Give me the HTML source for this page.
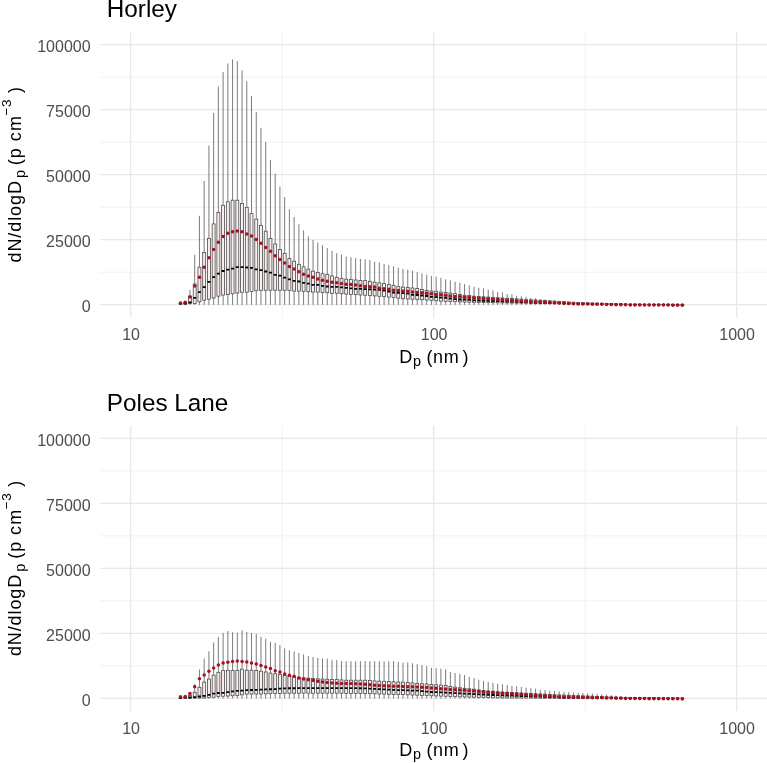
<!DOCTYPE html>
<html><head><meta charset="utf-8"><style>
html,body{margin:0;padding:0;background:#fff;}
body{width:767px;height:763px;overflow:hidden;font-family:"Liberation Sans",sans-serif;}
svg{display:block;will-change:transform;}
</style></head><body>
<svg width="767" height="763" viewBox="0 0 767 763" font-family="'Liberation Sans', sans-serif"><rect width="767" height="763" fill="#fff"/><line x1="100.0" x2="767.0" y1="272.20" y2="272.20" stroke="#efefef" stroke-width="0.9"/>
<line x1="100.0" x2="767.0" y1="207.20" y2="207.20" stroke="#efefef" stroke-width="0.9"/>
<line x1="100.0" x2="767.0" y1="142.20" y2="142.20" stroke="#efefef" stroke-width="0.9"/>
<line x1="100.0" x2="767.0" y1="77.20" y2="77.20" stroke="#efefef" stroke-width="0.9"/>
<line x1="282.20" x2="282.20" y1="32.2" y2="317.4" stroke="#efefef" stroke-width="0.9"/>
<line x1="585.20" x2="585.20" y1="32.2" y2="317.4" stroke="#efefef" stroke-width="0.9"/>
<line x1="100.0" x2="767.0" y1="304.70" y2="304.70" stroke="#e8e8e8" stroke-width="1.3"/>
<line x1="100.0" x2="767.0" y1="239.70" y2="239.70" stroke="#e8e8e8" stroke-width="1.3"/>
<line x1="100.0" x2="767.0" y1="174.70" y2="174.70" stroke="#e8e8e8" stroke-width="1.3"/>
<line x1="100.0" x2="767.0" y1="109.70" y2="109.70" stroke="#e8e8e8" stroke-width="1.3"/>
<line x1="100.0" x2="767.0" y1="44.70" y2="44.70" stroke="#e8e8e8" stroke-width="1.3"/>
<line x1="130.70" x2="130.70" y1="32.2" y2="317.4" stroke="#e8e8e8" stroke-width="1.3"/>
<line x1="433.70" x2="433.70" y1="32.2" y2="317.4" stroke="#e8e8e8" stroke-width="1.3"/>
<line x1="736.70" x2="736.70" y1="32.2" y2="317.4" stroke="#e8e8e8" stroke-width="1.3"/>
<path d="M180.50 303.00V303.50M180.50 304.00V304.90M185.23 301.80V303.00M185.23 304.00V304.90M189.97 289.80V296.10M189.97 303.40V304.90M194.70 254.70V284.00M194.70 303.40V304.90M199.44 215.80V267.20M199.44 301.80V304.90M204.17 180.90V252.50M204.17 300.20V304.90M208.91 145.50V238.50M208.91 299.20V304.90M213.64 112.90V223.90M213.64 297.90V304.90M218.37 86.50V212.40M218.37 296.20V304.90M223.11 72.00V205.30M223.11 295.10V304.90M227.84 63.40V201.80M227.84 294.60V304.90M232.58 59.40V200.20M232.58 293.80V304.90M237.31 61.00V200.20M237.31 293.00V304.90M242.05 70.40V203.40M242.05 292.20V304.90M246.78 81.20V207.30M246.78 292.20V304.90M251.51 96.10V213.60M251.51 291.40V304.90M256.25 112.00V219.10M256.25 290.70V304.90M260.98 127.90V225.40M260.98 290.30V304.90M265.72 141.90V231.20M265.72 290.27V304.90M270.45 160.00V238.40M270.45 290.23V304.90M275.19 173.70V243.90M275.19 290.20V304.90M279.92 186.80V249.50M279.92 290.27V304.90M284.66 197.00V253.40M284.66 290.33V304.90M289.39 209.20V258.40M289.39 290.40V304.90M294.12 217.00V261.20M294.12 291.10V304.90M298.86 224.20V264.30M298.86 291.10V304.90M303.59 230.40V266.80M303.59 291.30V304.90M308.33 236.30V269.20M308.33 291.70V304.90M313.06 240.00V271.20M313.06 292.10V304.90M317.80 242.60V272.50M317.80 292.10V304.90M322.53 245.20V273.70M322.53 292.40V304.90M327.26 248.20V274.40M327.26 292.70V304.90M332.00 250.90V276.00M332.00 293.30V304.90M336.73 253.10V277.30M336.73 293.30V304.90M341.47 254.50V278.30M341.47 293.70V304.90M346.20 256.50V279.20M346.20 294.10V304.90M350.94 257.20V279.40M350.94 294.38V304.90M355.67 258.00V280.00M355.67 294.66V304.90M360.41 259.00V280.50M360.41 294.94V304.90M365.14 259.30V280.60M365.14 295.22V304.90M369.87 260.00V281.30M369.87 295.50V304.90M374.61 261.70V282.20M374.61 295.90V304.90M379.34 262.50V282.90M379.34 296.30V304.90M384.08 263.80V283.40M384.08 296.70V304.90M388.81 265.10V284.40M388.81 297.10V304.90M393.55 266.20V285.30M393.55 297.60V304.90M398.28 267.70V286.60M398.28 298.20V304.90M403.01 269.00V287.10M403.01 298.70V304.90M407.75 269.60V287.50M407.75 298.95V304.90M412.48 270.70V288.00M412.48 299.20V304.90M417.22 272.10V288.50M417.22 299.45V304.90M421.95 273.50V289.40M421.95 299.70V304.90M426.69 274.60V290.30M426.69 300.00V304.90M431.42 276.00V291.00M431.42 300.30V304.90M436.16 276.70V291.30M436.16 300.70V304.90M440.89 277.90V292.10M440.89 301.10V304.90M445.62 279.30V292.50M445.62 301.30V304.90M450.36 280.30V293.10M450.36 301.48V304.90M455.09 281.80V293.60M455.09 301.67V304.90M459.83 282.90V294.40M459.83 301.85V304.90M464.56 284.00V295.20M464.56 302.03V304.90M469.30 285.40V295.40M469.30 302.22V304.90M474.03 286.70V296.20M474.03 302.40V304.90M478.76 287.70V296.49M478.76 302.48V304.90M483.50 288.30V296.78M483.50 302.56V304.90M488.23 289.60V297.07M488.23 302.65V304.90M492.97 290.40V297.36M492.97 302.73V304.90M497.70 292.00V297.65M497.70 302.81V304.90M502.44 292.50V297.95M502.44 302.89V304.90M507.17 294.00V298.24M507.17 302.97V304.90M511.91 294.30V298.53M511.91 303.05V304.90M516.64 295.90V298.82M516.64 303.14V304.90M521.37 296.30V299.11M521.37 303.22V304.90M526.11 296.80V299.40M526.11 303.30V304.90M530.84 298.00V299.68M530.84 303.36V304.90M535.58 298.20V299.96M535.58 303.43V304.90M540.31 299.00V300.25M540.31 303.49V304.90M545.05 299.40V300.53M545.05 303.55V304.90M549.78 300.00V300.81M549.78 303.62V304.90M554.51 300.30V301.09M554.51 303.68V304.90M559.25 301.00V301.37M559.25 303.75V304.90M563.98 303.81V304.90M568.72 303.87V304.90M573.45 303.94V304.90M578.19 304.00V304.90M582.92 304.03V304.90M587.66 304.06V304.90M592.39 304.10V304.90M597.12 304.13V304.90M601.86 304.16V304.90M606.59 304.24V304.90M611.33 304.31V304.90M616.06 304.38V304.90M620.80 304.45V304.90M625.53 304.53V304.90M630.26 304.60V304.90M635.00 304.61V304.90M639.73 304.62V304.90M644.47 304.63V304.90M649.20 304.64V304.90M653.94 304.65V304.90M658.67 304.65V304.90M663.41 304.66V304.90M668.14 304.67V304.90M672.87 304.68V304.90M677.61 304.69V304.90M682.34 304.70V304.90" stroke="#505050" stroke-width="0.75" fill="none"/>
<g fill="#fbeeee" stroke="#4a4a4a" stroke-width="0.8"><rect x="179.02" y="303.50" width="2.95" height="0.50"/><rect x="183.76" y="303.00" width="2.95" height="1.00"/><rect x="188.49" y="296.10" width="2.95" height="7.30"/><rect x="193.23" y="284.00" width="2.95" height="19.40"/><rect x="197.96" y="267.20" width="2.95" height="34.60"/><rect x="202.70" y="252.50" width="2.95" height="47.70"/><rect x="207.43" y="238.50" width="2.95" height="60.70"/><rect x="212.16" y="223.90" width="2.95" height="74.00"/><rect x="216.90" y="212.40" width="2.95" height="83.80"/><rect x="221.63" y="205.30" width="2.95" height="89.80"/><rect x="226.37" y="201.80" width="2.95" height="92.80"/><rect x="231.10" y="200.20" width="2.95" height="93.60"/><rect x="235.84" y="200.20" width="2.95" height="92.80"/><rect x="240.57" y="203.40" width="2.95" height="88.80"/><rect x="245.31" y="207.30" width="2.95" height="84.90"/><rect x="250.04" y="213.60" width="2.95" height="77.80"/><rect x="254.77" y="219.10" width="2.95" height="71.60"/><rect x="259.51" y="225.40" width="2.95" height="64.90"/><rect x="264.24" y="231.20" width="2.95" height="59.07"/><rect x="268.98" y="238.40" width="2.95" height="51.83"/><rect x="273.71" y="243.90" width="2.95" height="46.30"/><rect x="278.45" y="249.50" width="2.95" height="40.77"/><rect x="283.18" y="253.40" width="2.95" height="36.93"/><rect x="287.91" y="258.40" width="2.95" height="32.00"/><rect x="292.65" y="261.20" width="2.95" height="29.90"/><rect x="297.38" y="264.30" width="2.95" height="26.80"/><rect x="302.12" y="266.80" width="2.95" height="24.50"/><rect x="306.85" y="269.20" width="2.95" height="22.50"/><rect x="311.59" y="271.20" width="2.95" height="20.90"/><rect x="316.32" y="272.50" width="2.95" height="19.60"/><rect x="321.06" y="273.70" width="2.95" height="18.70"/><rect x="325.79" y="274.40" width="2.95" height="18.30"/><rect x="330.52" y="276.00" width="2.95" height="17.30"/><rect x="335.26" y="277.30" width="2.95" height="16.00"/><rect x="339.99" y="278.30" width="2.95" height="15.40"/><rect x="344.73" y="279.20" width="2.95" height="14.90"/><rect x="349.46" y="279.40" width="2.95" height="14.98"/><rect x="354.20" y="280.00" width="2.95" height="14.66"/><rect x="358.93" y="280.50" width="2.95" height="14.44"/><rect x="363.66" y="280.60" width="2.95" height="14.62"/><rect x="368.40" y="281.30" width="2.95" height="14.20"/><rect x="373.13" y="282.20" width="2.95" height="13.70"/><rect x="377.87" y="282.90" width="2.95" height="13.40"/><rect x="382.60" y="283.40" width="2.95" height="13.30"/><rect x="387.34" y="284.40" width="2.95" height="12.70"/><rect x="392.07" y="285.30" width="2.95" height="12.30"/><rect x="396.81" y="286.60" width="2.95" height="11.60"/><rect x="401.54" y="287.10" width="2.95" height="11.60"/><rect x="406.27" y="287.50" width="2.95" height="11.45"/><rect x="411.01" y="288.00" width="2.95" height="11.20"/><rect x="415.74" y="288.50" width="2.95" height="10.95"/><rect x="420.48" y="289.40" width="2.95" height="10.30"/><rect x="425.21" y="290.30" width="2.95" height="9.70"/><rect x="429.95" y="291.00" width="2.95" height="9.30"/><rect x="434.68" y="291.30" width="2.95" height="9.40"/><rect x="439.41" y="292.10" width="2.95" height="9.00"/><rect x="444.15" y="292.50" width="2.95" height="8.80"/><rect x="448.88" y="293.10" width="2.95" height="8.38"/><rect x="453.62" y="293.60" width="2.95" height="8.07"/><rect x="458.35" y="294.40" width="2.95" height="7.45"/><rect x="463.09" y="295.20" width="2.95" height="6.83"/><rect x="467.82" y="295.40" width="2.95" height="6.82"/><rect x="472.56" y="296.20" width="2.95" height="6.20"/><rect x="477.29" y="296.49" width="2.95" height="5.99"/><rect x="482.02" y="296.78" width="2.95" height="5.78"/><rect x="486.76" y="297.07" width="2.95" height="5.57"/><rect x="491.49" y="297.36" width="2.95" height="5.36"/><rect x="496.23" y="297.65" width="2.95" height="5.15"/><rect x="500.96" y="297.95" width="2.95" height="4.95"/><rect x="505.70" y="298.24" width="2.95" height="4.74"/><rect x="510.43" y="298.53" width="2.95" height="4.53"/><rect x="515.16" y="298.82" width="2.95" height="4.32"/><rect x="519.90" y="299.11" width="2.95" height="4.11"/><rect x="524.63" y="299.40" width="2.95" height="3.90"/><rect x="529.37" y="299.68" width="2.95" height="3.68"/><rect x="534.10" y="299.96" width="2.95" height="3.46"/><rect x="538.84" y="300.25" width="2.95" height="3.25"/><rect x="543.57" y="300.53" width="2.95" height="3.03"/><rect x="548.31" y="300.81" width="2.95" height="2.81"/><rect x="553.04" y="301.09" width="2.95" height="2.59"/><rect x="557.77" y="301.37" width="2.95" height="2.37"/><rect x="562.51" y="301.65" width="2.95" height="2.15"/><rect x="567.24" y="301.94" width="2.95" height="1.94"/><rect x="571.98" y="302.22" width="2.95" height="1.72"/><rect x="576.71" y="302.50" width="2.95" height="1.50"/><rect x="581.45" y="302.65" width="2.95" height="1.38"/><rect x="586.18" y="302.81" width="2.95" height="1.25"/><rect x="590.91" y="302.96" width="2.95" height="1.13"/><rect x="595.65" y="303.12" width="2.95" height="1.01"/><rect x="600.38" y="303.27" width="2.95" height="0.89"/><rect x="605.12" y="303.43" width="2.95" height="0.81"/><rect x="609.85" y="303.58" width="2.95" height="0.73"/><rect x="614.59" y="303.74" width="2.95" height="0.65"/><rect x="619.32" y="303.89" width="2.95" height="0.56"/><rect x="624.06" y="304.05" width="2.95" height="0.48"/><rect x="628.79" y="304.20" width="2.95" height="0.40"/><rect x="633.52" y="304.24" width="2.95" height="0.37"/><rect x="638.26" y="304.27" width="2.95" height="0.35"/><rect x="642.99" y="304.31" width="2.95" height="0.32"/><rect x="647.73" y="304.35" width="2.95" height="0.30"/><rect x="652.46" y="304.38" width="2.95" height="0.30"/><rect x="657.20" y="304.42" width="2.95" height="0.30"/><rect x="661.93" y="304.45" width="2.95" height="0.30"/><rect x="666.66" y="304.49" width="2.95" height="0.30"/><rect x="671.40" y="304.53" width="2.95" height="0.30"/><rect x="676.13" y="304.56" width="2.95" height="0.30"/><rect x="680.87" y="304.60" width="2.95" height="0.30"/></g>
<path d="M179.02 303.70h2.95M183.76 303.50h2.95M188.49 302.30h2.95M193.23 297.90h2.95M197.96 292.10h2.95M202.70 287.10h2.95M207.43 281.90h2.95M212.16 277.10h2.95M216.90 273.70h2.95M221.63 271.00h2.95M226.37 269.70h2.95M231.10 268.60h2.95M235.84 267.10h2.95M240.57 267.10h2.95M245.31 267.50h2.95M250.04 267.90h2.95M254.77 269.40h2.95M259.51 270.20h2.95M264.24 271.50h2.95M268.98 272.60h2.95M273.71 274.90h2.95M278.45 275.70h2.95M283.18 277.60h2.95M287.91 279.30h2.95M292.65 280.80h2.95M297.38 281.50h2.95M302.12 282.80h2.95M306.85 283.60h2.95M311.59 284.80h2.95M316.32 284.90h2.95M321.06 285.80h2.95M325.79 286.50h2.95M330.52 286.80h2.95M335.26 286.80h2.95M339.99 287.30h2.95M344.73 287.90h2.95M349.46 288.40h2.95M354.20 288.90h2.95M358.93 288.90h2.95M363.66 289.20h2.95M368.40 289.40h2.95M373.13 289.70h2.95M377.87 289.90h2.95M382.60 290.60h2.95M387.34 291.50h2.95M392.07 292.70h2.95M396.81 292.90h2.95M401.54 293.20h2.95M406.27 293.70h2.95M411.01 294.80h2.95M415.74 295.00h2.95M420.48 295.50h2.95M425.21 296.00h2.95M429.95 296.90h2.95M434.68 297.20h2.95M439.41 297.60h2.95M444.15 297.80h2.95M448.88 298.60h2.95M453.62 299.10h2.95M458.35 299.50h2.95M463.09 299.70h2.95M467.82 299.90h2.95M472.56 300.40h2.95M477.29 300.56h2.95M482.02 300.73h2.95M486.76 300.89h2.95M491.49 301.05h2.95M496.23 301.22h2.95M500.96 301.38h2.95M505.70 301.55h2.95M510.43 301.71h2.95M515.16 301.87h2.95M519.90 302.04h2.95M524.63 302.20h2.95M529.37 302.35h2.95M534.10 302.49h2.95M538.84 302.64h2.95M543.57 302.78h2.95M548.31 302.93h2.95M553.04 303.07h2.95M557.77 303.22h2.95M562.51 303.36h2.95M567.24 303.51h2.95M571.98 303.65h2.95M576.71 303.80h2.95M581.45 303.87h2.95M586.18 303.95h2.95M590.91 304.02h2.95M595.65 304.09h2.95M600.38 304.16h2.95M605.12 304.24h2.95M609.85 304.31h2.95M614.59 304.38h2.95M619.32 304.45h2.95M624.06 304.53h2.95M628.79 304.60h2.95M633.52 304.61h2.95M638.26 304.62h2.95M642.99 304.63h2.95M647.73 304.64h2.95M652.46 304.65h2.95M657.20 304.65h2.95M661.93 304.66h2.95M666.66 304.67h2.95M671.40 304.68h2.95M676.13 304.69h2.95M680.87 304.70h2.95" stroke="#000" stroke-width="1.8" fill="none"/>
<g fill="#a80f1f"><circle cx="180.50" cy="302.90" r="1.75"/><circle cx="185.23" cy="302.30" r="1.75"/><circle cx="189.97" cy="297.10" r="1.75"/><circle cx="194.70" cy="286.10" r="1.75"/><circle cx="199.44" cy="277.20" r="1.75"/><circle cx="204.17" cy="267.20" r="1.75"/><circle cx="208.91" cy="257.70" r="1.75"/><circle cx="213.64" cy="249.40" r="1.75"/><circle cx="218.37" cy="242.30" r="1.75"/><circle cx="223.11" cy="236.50" r="1.75"/><circle cx="227.84" cy="233.30" r="1.75"/><circle cx="232.58" cy="231.70" r="1.75"/><circle cx="237.31" cy="230.90" r="1.75"/><circle cx="242.05" cy="231.70" r="1.75"/><circle cx="246.78" cy="234.00" r="1.75"/><circle cx="251.51" cy="236.10" r="1.75"/><circle cx="256.25" cy="239.50" r="1.75"/><circle cx="260.98" cy="243.20" r="1.75"/><circle cx="265.72" cy="247.40" r="1.75"/><circle cx="270.45" cy="251.30" r="1.75"/><circle cx="275.19" cy="255.70" r="1.75"/><circle cx="279.92" cy="259.50" r="1.75"/><circle cx="284.66" cy="263.10" r="1.75"/><circle cx="289.39" cy="266.60" r="1.75"/><circle cx="294.12" cy="269.10" r="1.75"/><circle cx="298.86" cy="271.80" r="1.75"/><circle cx="303.59" cy="274.20" r="1.75"/><circle cx="308.33" cy="276.00" r="1.75"/><circle cx="313.06" cy="277.30" r="1.75"/><circle cx="317.80" cy="278.90" r="1.75"/><circle cx="322.53" cy="280.30" r="1.75"/><circle cx="327.26" cy="281.30" r="1.75"/><circle cx="332.00" cy="282.30" r="1.75"/><circle cx="336.73" cy="282.80" r="1.75"/><circle cx="341.47" cy="283.50" r="1.75"/><circle cx="346.20" cy="284.20" r="1.75"/><circle cx="350.94" cy="284.50" r="1.75"/><circle cx="355.67" cy="285.00" r="1.75"/><circle cx="360.41" cy="285.80" r="1.75"/><circle cx="365.14" cy="286.60" r="1.75"/><circle cx="369.87" cy="286.80" r="1.75"/><circle cx="374.61" cy="287.10" r="1.75"/><circle cx="379.34" cy="288.20" r="1.75"/><circle cx="384.08" cy="288.70" r="1.75"/><circle cx="388.81" cy="289.20" r="1.75"/><circle cx="393.55" cy="290.30" r="1.75"/><circle cx="398.28" cy="290.60" r="1.75"/><circle cx="403.01" cy="291.00" r="1.75"/><circle cx="407.75" cy="291.30" r="1.75"/><circle cx="412.48" cy="291.90" r="1.75"/><circle cx="417.22" cy="292.40" r="1.75"/><circle cx="421.95" cy="292.70" r="1.75"/><circle cx="426.69" cy="293.20" r="1.75"/><circle cx="431.42" cy="293.80" r="1.75"/><circle cx="436.16" cy="294.40" r="1.75"/><circle cx="440.89" cy="294.70" r="1.75"/><circle cx="445.62" cy="295.20" r="1.75"/><circle cx="450.36" cy="296.00" r="1.75"/><circle cx="455.09" cy="296.40" r="1.75"/><circle cx="459.83" cy="296.80" r="1.75"/><circle cx="464.56" cy="297.20" r="1.75"/><circle cx="469.30" cy="297.40" r="1.75"/><circle cx="474.03" cy="297.90" r="1.75"/><circle cx="478.76" cy="298.22" r="1.75"/><circle cx="483.50" cy="298.54" r="1.75"/><circle cx="488.23" cy="298.85" r="1.75"/><circle cx="492.97" cy="299.17" r="1.75"/><circle cx="497.70" cy="299.49" r="1.75"/><circle cx="502.44" cy="299.81" r="1.75"/><circle cx="507.17" cy="300.13" r="1.75"/><circle cx="511.91" cy="300.45" r="1.75"/><circle cx="516.64" cy="300.76" r="1.75"/><circle cx="521.37" cy="301.08" r="1.75"/><circle cx="526.11" cy="301.40" r="1.75"/><circle cx="530.84" cy="301.63" r="1.75"/><circle cx="535.58" cy="301.85" r="1.75"/><circle cx="540.31" cy="302.08" r="1.75"/><circle cx="545.05" cy="302.31" r="1.75"/><circle cx="549.78" cy="302.54" r="1.75"/><circle cx="554.51" cy="302.76" r="1.75"/><circle cx="559.25" cy="302.99" r="1.75"/><circle cx="563.98" cy="303.22" r="1.75"/><circle cx="568.72" cy="303.45" r="1.75"/><circle cx="573.45" cy="303.67" r="1.75"/><circle cx="578.19" cy="303.90" r="1.75"/><circle cx="582.92" cy="303.99" r="1.75"/><circle cx="587.66" cy="304.08" r="1.75"/><circle cx="592.39" cy="304.17" r="1.75"/><circle cx="597.12" cy="304.26" r="1.75"/><circle cx="601.86" cy="304.35" r="1.75"/><circle cx="606.59" cy="304.45" r="1.75"/><circle cx="611.33" cy="304.54" r="1.75"/><circle cx="616.06" cy="304.63" r="1.75"/><circle cx="620.80" cy="304.72" r="1.75"/><circle cx="625.53" cy="304.81" r="1.75"/><circle cx="630.26" cy="304.90" r="1.75"/><circle cx="635.00" cy="304.93" r="1.75"/><circle cx="639.73" cy="304.95" r="1.75"/><circle cx="644.47" cy="304.98" r="1.75"/><circle cx="649.20" cy="305.01" r="1.75"/><circle cx="653.94" cy="305.04" r="1.75"/><circle cx="658.67" cy="305.06" r="1.75"/><circle cx="663.41" cy="305.09" r="1.75"/><circle cx="668.14" cy="305.12" r="1.75"/><circle cx="672.87" cy="305.15" r="1.75"/><circle cx="677.61" cy="305.17" r="1.75"/><circle cx="682.34" cy="305.20" r="1.75"/></g>
<text x="90.6" y="312.00" text-anchor="end" font-size="16" fill="#4d4d4d">0</text>
<text x="90.6" y="247.00" text-anchor="end" font-size="16" fill="#4d4d4d">25000</text>
<text x="90.6" y="182.00" text-anchor="end" font-size="16" fill="#4d4d4d">50000</text>
<text x="90.6" y="117.00" text-anchor="end" font-size="16" fill="#4d4d4d">75000</text>
<text x="90.6" y="52.00" text-anchor="end" font-size="16" fill="#4d4d4d">100000</text>
<text x="131.10" y="340.30" text-anchor="middle" font-size="16" fill="#4d4d4d">10</text>
<text x="434.10" y="340.30" text-anchor="middle" font-size="16" fill="#4d4d4d">100</text>
<text x="737.10" y="340.30" text-anchor="middle" font-size="16" fill="#4d4d4d">1000</text>
<text x="106.8" y="16.90" font-size="24.3" fill="#000">Horley</text>
<text y="362.70" font-size="18" fill="#000"><tspan x="399.2">D</tspan></text>
<text x="412.9" y="365.60" font-size="14.4" fill="#000">p</text>
<text y="362.70" font-size="18" fill="#000"><tspan x="426.4">(</tspan><tspan x="432.9" letter-spacing="0.8">nm</tspan><tspan x="462.4">)</tspan></text>
<text transform="translate(20.80 0.00) rotate(-90)" x="-262.46" y="0" font-size="18" fill="#000" letter-spacing="0.9">dN/dlogD</text>
<text transform="translate(24.60 0.00) rotate(-90)" x="-178.10" y="0" font-size="14.4" fill="#000" letter-spacing="0.0">p</text>
<text transform="translate(20.80 0.00) rotate(-90)" x="-165.20" y="0" font-size="18" fill="#000" letter-spacing="1.0">(p</text>
<text transform="translate(20.80 0.00) rotate(-90)" x="-141.26" y="0" font-size="18" fill="#000" letter-spacing="1.2">cm</text>
<text transform="translate(11.10 0.00) rotate(-90)" x="-115.50" y="0" font-size="13.5" fill="#000" letter-spacing="0.5">−3</text>
<text transform="translate(20.80 0.00) rotate(-90)" x="-93.00" y="0" font-size="18" fill="#000" letter-spacing="0.0">)</text><line x1="100.0" x2="767.0" y1="665.85" y2="665.85" stroke="#efefef" stroke-width="0.9"/>
<line x1="100.0" x2="767.0" y1="600.85" y2="600.85" stroke="#efefef" stroke-width="0.9"/>
<line x1="100.0" x2="767.0" y1="535.85" y2="535.85" stroke="#efefef" stroke-width="0.9"/>
<line x1="100.0" x2="767.0" y1="470.85" y2="470.85" stroke="#efefef" stroke-width="0.9"/>
<line x1="282.20" x2="282.20" y1="425.84999999999997" y2="711.05" stroke="#efefef" stroke-width="0.9"/>
<line x1="585.20" x2="585.20" y1="425.84999999999997" y2="711.05" stroke="#efefef" stroke-width="0.9"/>
<line x1="100.0" x2="767.0" y1="698.35" y2="698.35" stroke="#e8e8e8" stroke-width="1.3"/>
<line x1="100.0" x2="767.0" y1="633.35" y2="633.35" stroke="#e8e8e8" stroke-width="1.3"/>
<line x1="100.0" x2="767.0" y1="568.35" y2="568.35" stroke="#e8e8e8" stroke-width="1.3"/>
<line x1="100.0" x2="767.0" y1="503.35" y2="503.35" stroke="#e8e8e8" stroke-width="1.3"/>
<line x1="100.0" x2="767.0" y1="438.35" y2="438.35" stroke="#e8e8e8" stroke-width="1.3"/>
<line x1="130.70" x2="130.70" y1="425.84999999999997" y2="711.05" stroke="#e8e8e8" stroke-width="1.3"/>
<line x1="433.70" x2="433.70" y1="425.84999999999997" y2="711.05" stroke="#e8e8e8" stroke-width="1.3"/>
<line x1="736.70" x2="736.70" y1="425.84999999999997" y2="711.05" stroke="#e8e8e8" stroke-width="1.3"/>
<path d="M180.50 697.00V697.50M180.50 698.20V698.50M185.23 696.50V697.30M185.23 698.20V698.50M189.97 693.00V695.50M189.97 698.20V698.50M194.70 684.00V692.30M194.70 698.10V698.50M199.44 669.60V687.30M199.44 698.05V698.50M204.17 658.50V682.10M204.17 698.00V698.50M208.91 651.30V679.10M208.91 697.50V698.50M213.64 642.50V675.10M213.64 697.20V698.50M218.37 636.90V672.30M218.37 696.50V698.50M223.11 632.90V670.50M223.11 696.25V698.50M227.84 631.00V670.30M227.84 696.00V698.50M232.58 632.30V670.50M232.58 695.75V698.50M237.31 632.50V670.30M237.31 695.50V698.50M242.05 630.30V669.20M242.05 694.80V698.50M246.78 632.00V670.20M246.78 694.10V698.50M251.51 633.00V670.20M251.51 694.07V698.50M256.25 633.90V670.40M256.25 694.03V698.50M260.98 636.90V671.20M260.98 694.00V698.50M265.72 638.70V672.00M265.72 693.83V698.50M270.45 641.70V673.10M270.45 693.67V698.50M275.19 642.80V673.70M275.19 693.50V698.50M279.92 645.10V674.30M279.92 693.40V698.50M284.66 648.40V675.40M284.66 693.30V698.50M289.39 650.30V676.20M289.39 693.20V698.50M294.12 651.60V676.80M294.12 693.20V698.50M298.86 653.00V677.30M298.86 693.20V698.50M303.59 654.50V677.80M303.59 693.20V698.50M308.33 656.10V678.10M308.33 693.20V698.50M313.06 656.90V678.40M313.06 693.20V698.50M317.80 657.70V678.80M317.80 693.20V698.50M322.53 658.60V679.10M322.53 693.20V698.50M327.26 658.70V679.30M327.26 693.20V698.50M332.00 659.80V679.50M332.00 693.20V698.50M336.73 660.10V679.60M336.73 693.20V698.50M341.47 661.00V679.90M341.47 693.28V698.50M346.20 661.20V680.20M346.20 693.35V698.50M350.94 661.20V680.20M350.94 693.42V698.50M355.67 661.20V680.20M355.67 693.50V698.50M360.41 661.20V680.20M360.41 693.58V698.50M365.14 661.20V680.20M365.14 693.65V698.50M369.87 661.20V680.60M369.87 693.72V698.50M374.61 661.20V680.90M374.61 693.80V698.50M379.34 661.20V681.10M379.34 693.97V698.50M384.08 661.20V681.30M384.08 694.13V698.50M388.81 661.20V681.50M388.81 694.30V698.50M393.55 661.20V681.75M393.55 694.40V698.50M398.28 661.90V682.00M398.28 694.50V698.50M403.01 662.60V682.20M403.01 694.60V698.50M407.75 662.40V682.40M407.75 694.80V698.50M412.48 663.30V682.90M412.48 695.00V698.50M417.22 664.20V683.40M417.22 695.20V698.50M421.95 665.10V683.70M421.95 695.38V698.50M426.69 666.00V684.00M426.69 695.55V698.50M431.42 667.80V684.40M431.42 695.73V698.50M436.16 668.20V684.80M436.16 695.90V698.50M440.89 668.70V685.20M440.89 696.10V698.50M445.62 669.30V685.60M445.62 696.30V698.50M450.36 671.90V686.40M450.36 696.50V698.50M455.09 673.00V687.20M455.09 696.67V698.50M459.83 673.90V687.75M459.83 696.83V698.50M464.56 675.10V688.30M464.56 697.00V698.50M469.30 676.90V688.75M469.30 697.12V698.50M474.03 678.10V689.20M474.03 697.25V698.50M478.76 679.70V689.90M478.76 697.38V698.50M483.50 680.80V690.60M483.50 697.50V698.50M488.23 681.90V690.95M488.23 697.63V698.50M492.97 682.90V691.30M492.97 697.77V698.50M497.70 683.80V691.80M497.70 697.90V698.50M502.44 684.50V692.04M502.44 697.93V698.50M507.17 685.10V692.27M507.17 697.96V698.50M511.91 686.00V692.51M511.91 697.99V698.50M516.64 686.30V692.74M516.64 698.01V698.50M521.37 686.90V692.98M521.37 698.04V698.50M526.11 687.80V693.21M526.11 698.07V698.50M530.84 688.30V693.45M530.84 698.10V698.50M535.58 688.70V693.69M535.58 698.13V698.50M540.31 689.70V693.92M540.31 698.16V698.50M545.05 690.10V694.16M545.05 698.19V698.50M549.78 690.60V694.39M549.78 698.21V698.50M554.51 691.00V694.63M554.51 698.24V698.50M559.25 691.50V694.86M559.25 698.27V698.50M563.98 691.90V695.10M563.98 698.30V698.50M568.72 692.17V695.28M568.72 698.30V698.50M573.45 692.44V695.46M573.45 698.30V698.50M578.19 692.71V695.64M578.19 698.31V698.50M582.92 692.99V695.81M582.92 698.31V698.50M587.66 693.26V695.99M587.66 698.31V698.50M592.39 693.53V696.17M592.39 698.31V698.50M597.12 693.80V696.35M597.12 698.31V698.50M601.86 694.26V696.53M601.86 698.32V698.50M606.59 694.71V696.71M606.59 698.32V698.50M611.33 695.17V696.89M611.33 698.32V698.50M616.06 695.63V697.06M616.06 698.32V698.50M620.80 696.09V697.24M620.80 698.32V698.50M625.53 696.54V697.42M625.53 698.33V698.50M630.26 697.00V697.60M630.26 698.33V698.50M635.00 697.10V697.65M635.00 698.33V698.50M639.73 697.20V697.71M639.73 698.33V698.50M644.47 697.30V697.76M644.47 698.33V698.50M649.20 697.40V697.82M649.20 698.34V698.50M653.94 697.50V697.87M653.94 698.34V698.50M658.67 697.60V697.93M658.67 698.34V698.50M663.41 697.70V697.98M663.41 698.34V698.50M668.14 697.80V698.04M668.14 698.34V698.50M672.87 697.90V698.09M672.87 698.35V698.50M677.61 698.00V698.15M677.61 698.35V698.50M682.34 698.10V698.20M682.34 698.35V698.50" stroke="#505050" stroke-width="0.75" fill="none"/>
<g fill="#fbeeee" stroke="#4a4a4a" stroke-width="0.8"><rect x="179.02" y="697.50" width="2.95" height="0.70"/><rect x="183.76" y="697.30" width="2.95" height="0.90"/><rect x="188.49" y="695.50" width="2.95" height="2.70"/><rect x="193.23" y="692.30" width="2.95" height="5.80"/><rect x="197.96" y="687.30" width="2.95" height="10.75"/><rect x="202.70" y="682.10" width="2.95" height="15.90"/><rect x="207.43" y="679.10" width="2.95" height="18.40"/><rect x="212.16" y="675.10" width="2.95" height="22.10"/><rect x="216.90" y="672.30" width="2.95" height="24.20"/><rect x="221.63" y="670.50" width="2.95" height="25.75"/><rect x="226.37" y="670.30" width="2.95" height="25.70"/><rect x="231.10" y="670.50" width="2.95" height="25.25"/><rect x="235.84" y="670.30" width="2.95" height="25.20"/><rect x="240.57" y="669.20" width="2.95" height="25.60"/><rect x="245.31" y="670.20" width="2.95" height="23.90"/><rect x="250.04" y="670.20" width="2.95" height="23.87"/><rect x="254.77" y="670.40" width="2.95" height="23.63"/><rect x="259.51" y="671.20" width="2.95" height="22.80"/><rect x="264.24" y="672.00" width="2.95" height="21.83"/><rect x="268.98" y="673.10" width="2.95" height="20.57"/><rect x="273.71" y="673.70" width="2.95" height="19.80"/><rect x="278.45" y="674.30" width="2.95" height="19.10"/><rect x="283.18" y="675.40" width="2.95" height="17.90"/><rect x="287.91" y="676.20" width="2.95" height="17.00"/><rect x="292.65" y="676.80" width="2.95" height="16.40"/><rect x="297.38" y="677.30" width="2.95" height="15.90"/><rect x="302.12" y="677.80" width="2.95" height="15.40"/><rect x="306.85" y="678.10" width="2.95" height="15.10"/><rect x="311.59" y="678.40" width="2.95" height="14.80"/><rect x="316.32" y="678.80" width="2.95" height="14.40"/><rect x="321.06" y="679.10" width="2.95" height="14.10"/><rect x="325.79" y="679.30" width="2.95" height="13.90"/><rect x="330.52" y="679.50" width="2.95" height="13.70"/><rect x="335.26" y="679.60" width="2.95" height="13.60"/><rect x="339.99" y="679.90" width="2.95" height="13.38"/><rect x="344.73" y="680.20" width="2.95" height="13.15"/><rect x="349.46" y="680.20" width="2.95" height="13.22"/><rect x="354.20" y="680.20" width="2.95" height="13.30"/><rect x="358.93" y="680.20" width="2.95" height="13.38"/><rect x="363.66" y="680.20" width="2.95" height="13.45"/><rect x="368.40" y="680.60" width="2.95" height="13.12"/><rect x="373.13" y="680.90" width="2.95" height="12.90"/><rect x="377.87" y="681.10" width="2.95" height="12.87"/><rect x="382.60" y="681.30" width="2.95" height="12.83"/><rect x="387.34" y="681.50" width="2.95" height="12.80"/><rect x="392.07" y="681.75" width="2.95" height="12.65"/><rect x="396.81" y="682.00" width="2.95" height="12.50"/><rect x="401.54" y="682.20" width="2.95" height="12.40"/><rect x="406.27" y="682.40" width="2.95" height="12.40"/><rect x="411.01" y="682.90" width="2.95" height="12.10"/><rect x="415.74" y="683.40" width="2.95" height="11.80"/><rect x="420.48" y="683.70" width="2.95" height="11.67"/><rect x="425.21" y="684.00" width="2.95" height="11.55"/><rect x="429.95" y="684.40" width="2.95" height="11.33"/><rect x="434.68" y="684.80" width="2.95" height="11.10"/><rect x="439.41" y="685.20" width="2.95" height="10.90"/><rect x="444.15" y="685.60" width="2.95" height="10.70"/><rect x="448.88" y="686.40" width="2.95" height="10.10"/><rect x="453.62" y="687.20" width="2.95" height="9.47"/><rect x="458.35" y="687.75" width="2.95" height="9.08"/><rect x="463.09" y="688.30" width="2.95" height="8.70"/><rect x="467.82" y="688.75" width="2.95" height="8.38"/><rect x="472.56" y="689.20" width="2.95" height="8.05"/><rect x="477.29" y="689.90" width="2.95" height="7.47"/><rect x="482.02" y="690.60" width="2.95" height="6.90"/><rect x="486.76" y="690.95" width="2.95" height="6.68"/><rect x="491.49" y="691.30" width="2.95" height="6.47"/><rect x="496.23" y="691.80" width="2.95" height="6.10"/><rect x="500.96" y="692.04" width="2.95" height="5.89"/><rect x="505.70" y="692.27" width="2.95" height="5.69"/><rect x="510.43" y="692.51" width="2.95" height="5.48"/><rect x="515.16" y="692.74" width="2.95" height="5.27"/><rect x="519.90" y="692.98" width="2.95" height="5.06"/><rect x="524.63" y="693.21" width="2.95" height="4.86"/><rect x="529.37" y="693.45" width="2.95" height="4.65"/><rect x="534.10" y="693.69" width="2.95" height="4.44"/><rect x="538.84" y="693.92" width="2.95" height="4.24"/><rect x="543.57" y="694.16" width="2.95" height="4.03"/><rect x="548.31" y="694.39" width="2.95" height="3.82"/><rect x="553.04" y="694.63" width="2.95" height="3.61"/><rect x="557.77" y="694.86" width="2.95" height="3.41"/><rect x="562.51" y="695.10" width="2.95" height="3.20"/><rect x="567.24" y="695.28" width="2.95" height="3.02"/><rect x="571.98" y="695.46" width="2.95" height="2.85"/><rect x="576.71" y="695.64" width="2.95" height="2.67"/><rect x="581.45" y="695.81" width="2.95" height="2.49"/><rect x="586.18" y="695.99" width="2.95" height="2.32"/><rect x="590.91" y="696.17" width="2.95" height="2.14"/><rect x="595.65" y="696.35" width="2.95" height="1.96"/><rect x="600.38" y="696.53" width="2.95" height="1.79"/><rect x="605.12" y="696.71" width="2.95" height="1.61"/><rect x="609.85" y="696.89" width="2.95" height="1.43"/><rect x="614.59" y="697.06" width="2.95" height="1.26"/><rect x="619.32" y="697.24" width="2.95" height="1.08"/><rect x="624.06" y="697.42" width="2.95" height="0.90"/><rect x="628.79" y="697.60" width="2.95" height="0.73"/><rect x="633.52" y="697.65" width="2.95" height="0.68"/><rect x="638.26" y="697.71" width="2.95" height="0.62"/><rect x="642.99" y="697.76" width="2.95" height="0.57"/><rect x="647.73" y="697.82" width="2.95" height="0.52"/><rect x="652.46" y="697.87" width="2.95" height="0.47"/><rect x="657.20" y="697.93" width="2.95" height="0.41"/><rect x="661.93" y="697.98" width="2.95" height="0.36"/><rect x="666.66" y="698.04" width="2.95" height="0.31"/><rect x="671.40" y="698.09" width="2.95" height="0.30"/><rect x="676.13" y="698.15" width="2.95" height="0.30"/><rect x="680.87" y="698.20" width="2.95" height="0.30"/></g>
<path d="M179.02 697.80h2.95M183.76 697.70h2.95M188.49 697.50h2.95M193.23 697.20h2.95M197.96 696.50h2.95M202.70 695.80h2.95M207.43 694.80h2.95M212.16 693.60h2.95M216.90 693.00h2.95M221.63 692.80h2.95M226.37 692.20h2.95M231.10 691.30h2.95M235.84 690.90h2.95M240.57 690.60h2.95M245.31 690.10h2.95M250.04 690.00h2.95M254.77 689.80h2.95M259.51 689.60h2.95M264.24 689.43h2.95M268.98 689.27h2.95M273.71 689.10h2.95M278.45 688.70h2.95M283.18 688.30h2.95M287.91 688.27h2.95M292.65 688.23h2.95M297.38 688.20h2.95M302.12 688.17h2.95M306.85 688.13h2.95M311.59 688.10h2.95M316.32 688.12h2.95M321.06 688.15h2.95M325.79 688.18h2.95M330.52 688.20h2.95M335.26 688.18h2.95M339.99 688.15h2.95M344.73 688.12h2.95M349.46 688.10h2.95M354.20 688.17h2.95M358.93 688.23h2.95M363.66 688.30h2.95M368.40 688.55h2.95M373.13 688.80h2.95M377.87 689.10h2.95M382.60 689.40h2.95M387.34 689.70h2.95M392.07 689.87h2.95M396.81 690.03h2.95M401.54 690.20h2.95M406.27 690.37h2.95M411.01 690.53h2.95M415.74 690.70h2.95M420.48 691.13h2.95M425.21 691.57h2.95M429.95 692.00h2.95M434.68 692.20h2.95M439.41 692.43h2.95M444.15 692.67h2.95M448.88 692.90h2.95M453.62 693.13h2.95M458.35 693.37h2.95M463.09 693.60h2.95M467.82 693.83h2.95M472.56 694.07h2.95M477.29 694.30h2.95M482.02 694.52h2.95M486.76 694.75h2.95M491.49 694.98h2.95M496.23 695.20h2.95M500.96 695.36h2.95M505.70 695.53h2.95M510.43 695.69h2.95M515.16 695.86h2.95M519.90 696.02h2.95M524.63 696.19h2.95M529.37 696.35h2.95M534.10 696.51h2.95M538.84 696.68h2.95M543.57 696.84h2.95M548.31 697.01h2.95M553.04 697.17h2.95M557.77 697.34h2.95M562.51 697.50h2.95M567.24 697.55h2.95M571.98 697.60h2.95M576.71 697.65h2.95M581.45 697.70h2.95M586.18 697.75h2.95M590.91 697.80h2.95M595.65 697.85h2.95M600.38 697.90h2.95M605.12 697.95h2.95M609.85 698.00h2.95M614.59 698.05h2.95M619.32 698.10h2.95M624.06 698.15h2.95M628.79 698.20h2.95M633.52 698.21h2.95M638.26 698.23h2.95M642.99 698.24h2.95M647.73 698.25h2.95M652.46 698.27h2.95M657.20 698.28h2.95M661.93 698.30h2.95M666.66 698.31h2.95M671.40 698.32h2.95M676.13 698.34h2.95M680.87 698.35h2.95" stroke="#000" stroke-width="1.8" fill="none"/>
<g fill="#a80f1f"><circle cx="180.50" cy="696.80" r="1.75"/><circle cx="185.23" cy="696.50" r="1.75"/><circle cx="189.97" cy="693.60" r="1.75"/><circle cx="194.70" cy="686.70" r="1.75"/><circle cx="199.44" cy="678.80" r="1.75"/><circle cx="204.17" cy="675.10" r="1.75"/><circle cx="208.91" cy="671.30" r="1.75"/><circle cx="213.64" cy="668.10" r="1.75"/><circle cx="218.37" cy="665.00" r="1.75"/><circle cx="223.11" cy="663.10" r="1.75"/><circle cx="227.84" cy="662.20" r="1.75"/><circle cx="232.58" cy="661.50" r="1.75"/><circle cx="237.31" cy="661.10" r="1.75"/><circle cx="242.05" cy="661.40" r="1.75"/><circle cx="246.78" cy="662.00" r="1.75"/><circle cx="251.51" cy="662.90" r="1.75"/><circle cx="256.25" cy="664.00" r="1.75"/><circle cx="260.98" cy="665.50" r="1.75"/><circle cx="265.72" cy="667.10" r="1.75"/><circle cx="270.45" cy="668.50" r="1.75"/><circle cx="275.19" cy="670.70" r="1.75"/><circle cx="279.92" cy="672.00" r="1.75"/><circle cx="284.66" cy="674.00" r="1.75"/><circle cx="289.39" cy="675.20" r="1.75"/><circle cx="294.12" cy="676.30" r="1.75"/><circle cx="298.86" cy="678.00" r="1.75"/><circle cx="303.59" cy="679.10" r="1.75"/><circle cx="308.33" cy="679.70" r="1.75"/><circle cx="313.06" cy="680.40" r="1.75"/><circle cx="317.80" cy="681.30" r="1.75"/><circle cx="322.53" cy="681.90" r="1.75"/><circle cx="327.26" cy="682.40" r="1.75"/><circle cx="332.00" cy="682.90" r="1.75"/><circle cx="336.73" cy="683.20" r="1.75"/><circle cx="341.47" cy="683.40" r="1.75"/><circle cx="346.20" cy="683.50" r="1.75"/><circle cx="350.94" cy="683.60" r="1.75"/><circle cx="355.67" cy="683.83" r="1.75"/><circle cx="360.41" cy="684.07" r="1.75"/><circle cx="365.14" cy="684.30" r="1.75"/><circle cx="369.87" cy="684.75" r="1.75"/><circle cx="374.61" cy="685.20" r="1.75"/><circle cx="379.34" cy="685.50" r="1.75"/><circle cx="384.08" cy="685.80" r="1.75"/><circle cx="388.81" cy="686.10" r="1.75"/><circle cx="393.55" cy="686.23" r="1.75"/><circle cx="398.28" cy="686.37" r="1.75"/><circle cx="403.01" cy="686.50" r="1.75"/><circle cx="407.75" cy="686.67" r="1.75"/><circle cx="412.48" cy="686.83" r="1.75"/><circle cx="417.22" cy="687.00" r="1.75"/><circle cx="421.95" cy="687.30" r="1.75"/><circle cx="426.69" cy="687.60" r="1.75"/><circle cx="431.42" cy="687.90" r="1.75"/><circle cx="436.16" cy="688.30" r="1.75"/><circle cx="440.89" cy="688.67" r="1.75"/><circle cx="445.62" cy="689.03" r="1.75"/><circle cx="450.36" cy="689.40" r="1.75"/><circle cx="455.09" cy="689.70" r="1.75"/><circle cx="459.83" cy="690.00" r="1.75"/><circle cx="464.56" cy="690.30" r="1.75"/><circle cx="469.30" cy="690.70" r="1.75"/><circle cx="474.03" cy="691.10" r="1.75"/><circle cx="478.76" cy="691.50" r="1.75"/><circle cx="483.50" cy="691.85" r="1.75"/><circle cx="488.23" cy="692.20" r="1.75"/><circle cx="492.97" cy="692.55" r="1.75"/><circle cx="497.70" cy="692.90" r="1.75"/><circle cx="502.44" cy="693.19" r="1.75"/><circle cx="507.17" cy="693.49" r="1.75"/><circle cx="511.91" cy="693.78" r="1.75"/><circle cx="516.64" cy="694.07" r="1.75"/><circle cx="521.37" cy="694.36" r="1.75"/><circle cx="526.11" cy="694.66" r="1.75"/><circle cx="530.84" cy="694.95" r="1.75"/><circle cx="535.58" cy="695.24" r="1.75"/><circle cx="540.31" cy="695.54" r="1.75"/><circle cx="545.05" cy="695.83" r="1.75"/><circle cx="549.78" cy="696.12" r="1.75"/><circle cx="554.51" cy="696.41" r="1.75"/><circle cx="559.25" cy="696.71" r="1.75"/><circle cx="563.98" cy="697.00" r="1.75"/><circle cx="568.72" cy="697.11" r="1.75"/><circle cx="573.45" cy="697.21" r="1.75"/><circle cx="578.19" cy="697.32" r="1.75"/><circle cx="582.92" cy="697.43" r="1.75"/><circle cx="587.66" cy="697.54" r="1.75"/><circle cx="592.39" cy="697.64" r="1.75"/><circle cx="597.12" cy="697.75" r="1.75"/><circle cx="601.86" cy="697.86" r="1.75"/><circle cx="606.59" cy="697.96" r="1.75"/><circle cx="611.33" cy="698.07" r="1.75"/><circle cx="616.06" cy="698.18" r="1.75"/><circle cx="620.80" cy="698.29" r="1.75"/><circle cx="625.53" cy="698.39" r="1.75"/><circle cx="630.26" cy="698.50" r="1.75"/><circle cx="635.00" cy="698.54" r="1.75"/><circle cx="639.73" cy="698.57" r="1.75"/><circle cx="644.47" cy="698.61" r="1.75"/><circle cx="649.20" cy="698.65" r="1.75"/><circle cx="653.94" cy="698.68" r="1.75"/><circle cx="658.67" cy="698.72" r="1.75"/><circle cx="663.41" cy="698.75" r="1.75"/><circle cx="668.14" cy="698.79" r="1.75"/><circle cx="672.87" cy="698.83" r="1.75"/><circle cx="677.61" cy="698.86" r="1.75"/><circle cx="682.34" cy="698.90" r="1.75"/></g>
<text x="90.6" y="705.65" text-anchor="end" font-size="16" fill="#4d4d4d">0</text>
<text x="90.6" y="640.65" text-anchor="end" font-size="16" fill="#4d4d4d">25000</text>
<text x="90.6" y="575.65" text-anchor="end" font-size="16" fill="#4d4d4d">50000</text>
<text x="90.6" y="510.65" text-anchor="end" font-size="16" fill="#4d4d4d">75000</text>
<text x="90.6" y="445.65" text-anchor="end" font-size="16" fill="#4d4d4d">100000</text>
<text x="131.10" y="733.95" text-anchor="middle" font-size="16" fill="#4d4d4d">10</text>
<text x="434.10" y="733.95" text-anchor="middle" font-size="16" fill="#4d4d4d">100</text>
<text x="737.10" y="733.95" text-anchor="middle" font-size="16" fill="#4d4d4d">1000</text>
<text x="106.8" y="410.55" font-size="24.3" fill="#000">Poles Lane</text>
<text y="756.35" font-size="18" fill="#000"><tspan x="399.2">D</tspan></text>
<text x="412.9" y="759.25" font-size="14.4" fill="#000">p</text>
<text y="756.35" font-size="18" fill="#000"><tspan x="426.4">(</tspan><tspan x="432.9" letter-spacing="0.8">nm</tspan><tspan x="462.4">)</tspan></text>
<text transform="translate(20.80 393.65) rotate(-90)" x="-262.46" y="0" font-size="18" fill="#000" letter-spacing="0.9">dN/dlogD</text>
<text transform="translate(24.60 393.65) rotate(-90)" x="-178.10" y="0" font-size="14.4" fill="#000" letter-spacing="0.0">p</text>
<text transform="translate(20.80 393.65) rotate(-90)" x="-165.20" y="0" font-size="18" fill="#000" letter-spacing="1.0">(p</text>
<text transform="translate(20.80 393.65) rotate(-90)" x="-141.26" y="0" font-size="18" fill="#000" letter-spacing="1.2">cm</text>
<text transform="translate(11.10 393.65) rotate(-90)" x="-115.50" y="0" font-size="13.5" fill="#000" letter-spacing="0.5">−3</text>
<text transform="translate(20.80 393.65) rotate(-90)" x="-93.00" y="0" font-size="18" fill="#000" letter-spacing="0.0">)</text></svg>
</body></html>
